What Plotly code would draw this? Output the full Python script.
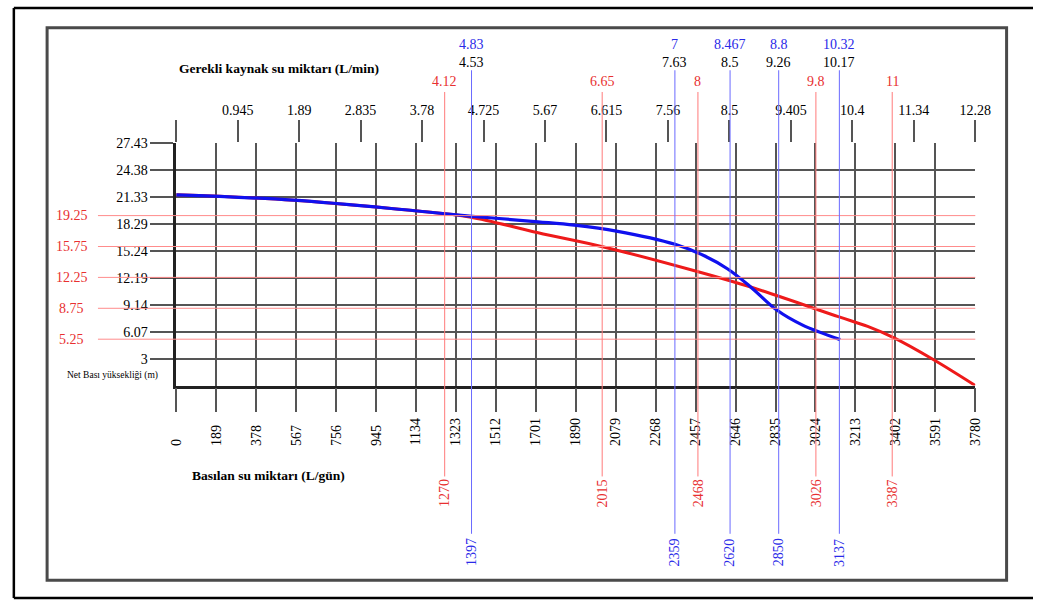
import plotly.graph_objects as go

# curves (x: L/gün, y: m)
red_x = [0, 555, 1129, 1388, 1712, 2022, 2452, 2725, 3132, 3271, 3396, 3581, 3780]
red_y = [21.6, 21.0, 19.8, 19.1, 17.3, 15.7, 13.0, 11.1, 7.8, 6.7, 5.4, 2.95, 0]
blue_x = [0, 555, 1129, 1388, 1712, 1883, 2082, 2360, 2498, 2609, 2716, 2841, 2961, 3141]
blue_y = [21.6, 21.0, 19.8, 19.2, 18.55, 18.17, 17.5, 16.0, 14.7, 13.2, 11.2, 8.55, 6.87, 5.2]

# axes
bottom_ticks = [189 * i for i in range(21)]
top_ticks = [0.945 * i for i in range(14)]
top_labels = ["", "0.945", "1.89", "2.835", "3.78", "4.725", "5.67", "6.615",
              "7.56", "8.5", "9.405", "10.4", "11.34", "12.28"]
y_ticks = [3, 6.07, 9.14, 12.19, 15.24, 18.29, 21.33, 24.38, 27.43]

# reference lines
red_h = [19.25, 15.75, 12.25, 8.75, 5.25]
red_v = [1270, 2015, 2468, 3026, 3387]
red_v_top = ["4.12", "6.65", "8", "9.8", "11"]
blue_v = [1397, 2359, 2620, 2850, 3137]
blue_v_top = ["4.83", "7", "8.467", "8.8", "10.32"]
black_v_top = ["4.53", "7.63", "8.5", "9.26", "10.17"]

W, H = 1049, 601
FONT = "Liberation Serif"
RED = "#e83030"
BLUE = "#2a2ae8"
GRID = "#555555"


def px(x):
    return x / W


def py(y):
    return 1 - y / H


def label(x, y, text, color="black", size=14, xref="paper", yref="paper", angle=0):
    return dict(xref=xref, yref=yref, x=x, y=y, text=text, showarrow=False, textangle=angle,
                xanchor="center", yanchor="middle", font=dict(family=FONT, size=size, color=color))


# bottom tick labels sit on a common baseline (pad short ones so digits move away from the axis)
bottom_text = [str(t) + "\u00a0\u00a0" * (4 - len(str(t))) for t in bottom_ticks]

fig = go.Figure()
fig.add_trace(go.Scatter(x=red_x, y=red_y, mode="lines", line=dict(color="#ee1a1a", width=3, shape="spline"),
                         showlegend=False))
fig.add_trace(go.Scatter(x=blue_x, y=blue_y, mode="lines", line=dict(color="#1010ee", width=3.2, shape="spline"),
                         showlegend=False))
fig.add_trace(go.Scatter(x=[0, 12.285], y=[None, None], xaxis="x2", showlegend=False, hoverinfo="skip"))

shapes = []
annotations = []

# outer frame (top, left, bottom) and inner grey frame
for x0, y0, x1, y1 in [(7, 1, 1049, 1), (7, 1, 7, 598), (7, 598, 1049, 598)]:
    shapes.append(dict(type="line", xref="paper", yref="paper", x0=px(x0), x1=px(x1), y0=py(y0), y1=py(y1),
                       line=dict(color="black", width=2.5)))
shapes.append(dict(type="rect", xref="paper", yref="paper", x0=px(41), x1=px(1022), y0=py(580), y1=py(21),
                   line=dict(color="#4a4a4a", width=3)))

for v in red_h:
    shapes.append(dict(type="line", xref="paper", yref="y", x0=px(93), x1=px(990), y0=v, y1=v,
                       line=dict(color="#ff8c8c", width=1), layer="above"))
    annotations.append(label(px(66), v, f"{v:.2f}", RED, yref="y"))

for v, t in zip(red_v, red_v_top):
    shapes.append(dict(type="line", xref="x", yref="paper", x0=v, x1=v, y0=py(475), y1=py(86),
                       line=dict(color="#ff7a7a", width=1), layer="above"))
    annotations.append(label(v, py(75), t, RED, xref="x"))
    annotations.append(label(v, py(492), str(v), RED, xref="x", angle=-90))

for v, t, b in zip(blue_v, blue_v_top, black_v_top):
    shapes.append(dict(type="line", xref="x", yref="paper", x0=v, x1=v, y0=py(533), y1=py(64),
                       line=dict(color="#6a6aff", width=1), layer="above"))
    annotations.append(label(v, py(38), t, BLUE, xref="x"))
    annotations.append(label(v, py(56), b, "black", xref="x"))
    annotations.append(label(v, py(552), str(v), BLUE, xref="x", angle=-90))

annotations.append(label(px(278), py(62), "<b>Gerekli kaynak su miktarı (L/min)</b>", size=13.5))
annotations.append(label(px(267), py(474), "<b>Basılan su miktarı (L/gün)</b>", size=13.5))
annotations.append(label(px(108), py(373), "Net Bası yüksekliği (m)", size=9.5))

fig.update_layout(
    width=W, height=H,
    margin=dict(l=0, r=0, t=0, b=0),
    paper_bgcolor="white", plot_bgcolor="white",
    font=dict(family=FONT, size=14, color="black"),
    shapes=shapes, annotations=annotations,
    xaxis=dict(domain=[px(173), px(990)], range=[0, 3780], tickvals=bottom_ticks,
               ticktext=bottom_text, tickangle=-90,
               ticks="outside", ticklen=24, tickcolor=GRID, tickwidth=1.5,
               showgrid=True, gridcolor=GRID, gridwidth=1.5, zeroline=False,
               showline=True, linecolor="#222", linewidth=2.5),
    xaxis2=dict(overlaying="x", side="top", anchor="y", range=[0, 12.285], tickvals=top_ticks,
                ticktext=top_labels, ticks="outside", ticklen=22, tickcolor=GRID, tickwidth=1.5,
                showgrid=False, zeroline=False, showline=False),
    yaxis=dict(domain=[py(383), py(138)], range=[0, 27.43], tickvals=y_ticks,
               ticktext=[f"{t:g}" for t in y_ticks],
               ticks="outside", ticklen=23, tickcolor=GRID, tickwidth=1.5,
               showgrid=True, gridcolor=GRID, gridwidth=1.5, zeroline=False,
               showline=True, linecolor="#222", linewidth=2.5),
)

fig.write_html("out.html", config={"displayModeBar": False},
               post_script="document.body.style.margin='0';document.body.style.overflow='hidden';")
